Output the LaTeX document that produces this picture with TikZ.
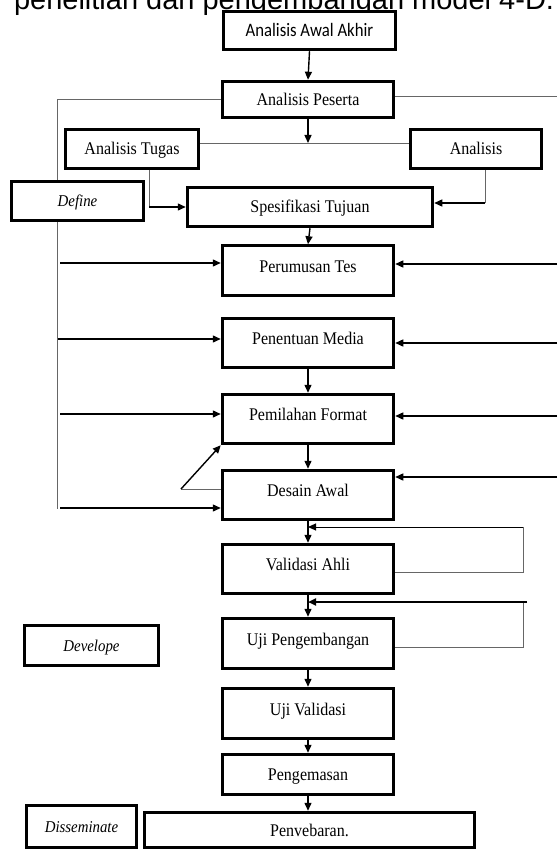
\documentclass[tikz,border=0pt]{standalone}
\usepackage{fontspec}
\setmainfont{Liberation Serif}[FakeStretch = 0.9]
\newfontfamily\judulfont{Liberation Sans}
\newfontfamily\awalfont{Carlito}[FakeStretch = 0.88]
\usetikzlibrary{arrows.meta}

\begin{document}
\begin{tikzpicture}[x = 1pt, y = -1pt,
    kotak/.style = {draw = black, line width = 3pt, fill = white, inner sep = 0pt,
      text height = 12pt, text depth = 0pt, font = \fontsize{17.8}{20}\selectfont},
    utama/.style = {kotak, minimum width = 171.5, minimum height = 49.5, text depth = 9pt},
    tahap/.style = {kotak, font = \fontsize{16.5}{18}\selectfont\itshape},
    panah/.style = {-{Triangle[length = 8pt, width = 7pt]}, line width = 1.4pt},
    garis/.style = {line width = .7pt, gray!80!black}]
    \useasboundingbox (0,0) rectangle (557,850);
    \clip (0,0) rectangle (557,850);
    \node [anchor = base west, font = \judulfont\fontsize{29}{32}\selectfont] (judul) at (10.5,10) {penelitian dan pengembangan model 4-D.};
    % define
    \node [kotak, minimum width = 172.5, minimum height = 38.5, font = \awalfont\fontsize{19}{21}\selectfont] (awal) at (309.5,30.5) {Analisis Awal Akhir};
    \node [kotak, minimum width = 171.5, minimum height = 36.5] (peserta) at (308,99.5) {Analisis Peserta};
    \node [kotak, minimum width = 133.5, minimum height = 39.5] (tugas) at (132,149) {Analisis Tugas};
    \node [kotak, minimum width = 131.5, minimum height = 39.5] (analisis) at (476,149) {Analisis};
    \node [tahap, minimum width = 132.5, minimum height = 39.5] (define) at (77.5,201) {Define};
    \node [kotak, minimum width = 245.5, minimum height = 39.5] (spesifikasi) at (310,207) {Spesifikasi Tujuan};
    \node [utama] (perumusan) at (308,270.5) {Perumusan Tes};
    \node [utama] (media) at (308,343) {Penentuan Media};
    \node [utama] (format) at (308,419) {Pemilahan Format};
    \node [utama] (desain) at (308,495) {Desain Awal};
    % develope
    \node [utama] (validasi) at (308,569) {Validasi Ahli};
    \node [utama, minimum height = 50.5] (ujipeng) at (308,643.5) {Uji Pengembangan};
    \node [tahap, minimum width = 134.5, minimum height = 40.5] (develope) at (91.5,645.5) {Develope};
    \node [utama, minimum height = 50.5] (ujival) at (308,713.5) {Uji Validasi};
    \node [kotak, minimum width = 171.5, minimum height = 40.5] (kemas) at (308,774.5) {Pengemasan};
    % disseminate
    \node [kotak, minimum width = 330.5, minimum height = 35.5] (sebar) at (309.5,830) {Penvebaran.};
    \node [tahap, minimum width = 110.5, minimum height = 42.5] (dissem) at (81.5,826.5) {Disseminate};

    \draw [panah] (awal.south) -- (peserta.north);
    \coordinate (tengah) at (308,143);
    \draw [panah] (peserta.south) -- (tengah);
    \draw [garis] (tugas.east |- tengah) -- (analisis.west |- tengah);
    \coordinate (tg) at (149,207);
    \draw [garis] (tugas.south -| tg) -- (tg);
    \draw [panah] (tg) -- (tg -| spesifikasi.west);
    \coordinate (an) at (485,203);
    \draw [garis] (analisis.south -| an) -- (an);
    \draw [panah] (an) -- (an -| spesifikasi.east);
    \draw [panah] (spesifikasi.south) -- (perumusan.north);
    \draw [panah] (media.south) -- (format.north);
    \draw [panah] (format.south) -- (desain.north);
    \draw [panah] (desain.south) -- (validasi.north);
    \draw [panah] (validasi.south) -- (ujipeng.north);
    \draw [panah] (ujipeng.south) -- (ujival.north);
    \draw [panah] (ujival.south) -- (kemas.north);
    \draw [panah] (kemas.south) -- (sebar.north -| kemas.south);

    % left side
    \coordinate (kiri) at (57.5,509);
    \draw [garis] (peserta.west) -| (define.north -| kiri);
    \draw [garis] (define.south -| kiri) -- (kiri);
    \coordinate (k1) at (60,263);
    \coordinate (k2) at (57.5,339);
    \coordinate (k3) at (60,414);
    \coordinate (k4) at (60,508);
    \draw [panah] (k1) -- (k1 -| perumusan.west);
    \draw [panah] (k2) -- (k2 -| media.west);
    \draw [panah] (k3) -- (k3 -| format.west);
    \draw [panah] (k4) -- (k4 -| desain.west);
    \coordinate (balik) at (181,489);
    \draw [garis] (desain.west |- balik) -- (balik);
    \draw [panah] (balik) -- (format.south west);

    % right side
    \coordinate (r0) at (557,96);
    \coordinate (r1) at (557,264);
    \coordinate (r2) at (557,343);
    \coordinate (r3) at (557,416);
    \coordinate (r4) at (557,477);
    \draw [garis] (peserta.east |- r0) -- (r0);
    \draw [panah] (r1) -- (r1 -| perumusan.east);
    \draw [panah] (r2) -- (r2 -| media.east);
    \draw [panah] (r3) -- (r3 -| format.east);
    \draw [panah] (r4) -- (r4 -| desain.east);

    % revisi
    \coordinate (va) at (523,572);
    \coordinate (vb) at (523,527);
    \draw [garis] (validasi.east |- va) -- (va) -- (vb);
    \draw [panah, line width = 1pt] (vb) -- (validasi.north |- vb);
    \coordinate (ua) at (523,647);
    \coordinate (ub) at (527,602);
    \draw [garis] (ujipeng.east |- ua) -- (ua) -- (ua |- ub);
    \draw [panah, line width = 2pt] (ub) -- (ujipeng.north |- ub);
\end{tikzpicture}
\end{document}
